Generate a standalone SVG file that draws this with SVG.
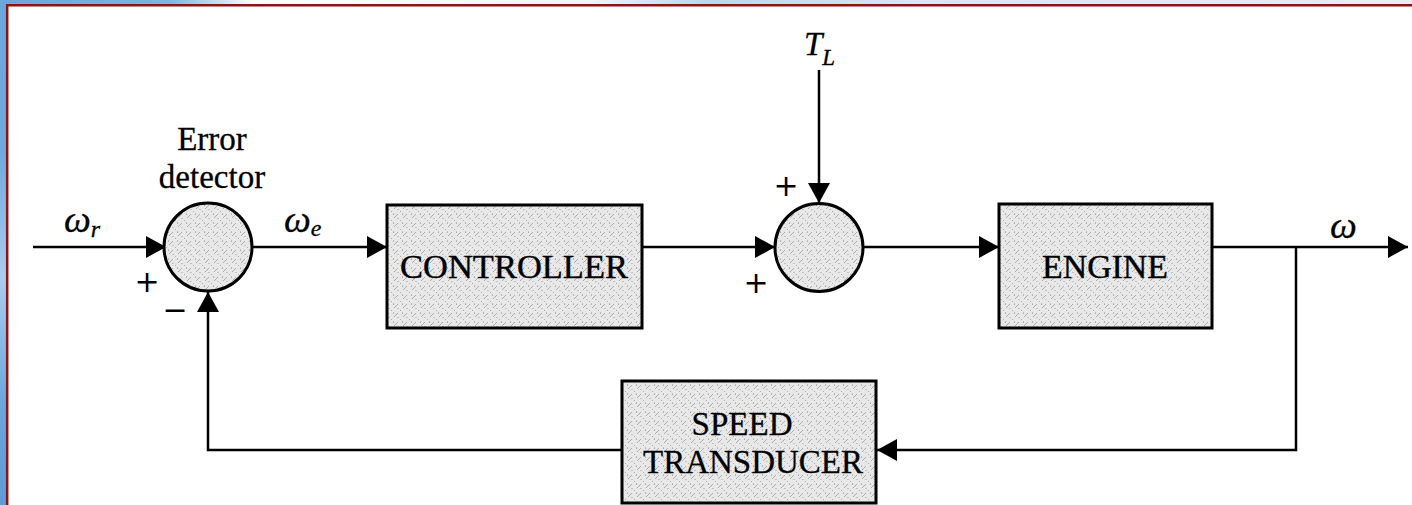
<svg xmlns="http://www.w3.org/2000/svg" width="1412" height="505" viewBox="0 0 1412 505">
<style>
.blk{fill:url(#stip);stroke:#000;stroke-width:3}
.sum{fill:url(#stip);stroke:#000;stroke-width:3}
.lbl{font-family:"Liberation Serif","Times New Roman",serif;font-size:34px;fill:#000;stroke:#000;stroke-width:0.4}
.cap{font-family:"Liberation Serif","Times New Roman",serif;font-size:33px;fill:#000;stroke:#000;stroke-width:0.3}
.sym{font-family:"Liberation Serif","Times New Roman",serif;font-style:italic;fill:#000;stroke:#000;stroke-width:0.3}
.sgn{font-family:"DejaVu Sans","Liberation Sans",sans-serif;font-size:30px;fill:#000}
.wire{fill:none;stroke:#000;stroke-width:2.5}
</style>
<defs>
<pattern id="stip" width="9" height="9" patternUnits="userSpaceOnUse">
<rect width="9" height="9" fill="#e8e8e8"/>
<path d="M0,9 L2,7 M4,5 L5,4 M7,2 L9,0" stroke="#a0a0a0" stroke-width="0.8"/>
<circle cx="6.5" cy="7" r="0.6" fill="#777"/>
<circle cx="2" cy="2.5" r="0.5" fill="#888"/>
</pattern>
<linearGradient id="topg" x1="0" y1="0" x2="1" y2="0">
<stop offset="0" stop-color="#6aa6df"/>
<stop offset="0.12" stop-color="#7fb4e4"/>
<stop offset="0.18" stop-color="#ffffff"/>
<stop offset="0.42" stop-color="#eef5fb"/>
<stop offset="0.5" stop-color="#b7d8f0"/>
<stop offset="0.64" stop-color="#d7e6f2"/>
<stop offset="1" stop-color="#e8eef4"/>
</linearGradient>
<linearGradient id="leftg" x1="0" y1="0" x2="0" y2="1">
<stop offset="0" stop-color="#6aa6df"/>
<stop offset="0.3" stop-color="#6fa9e0"/>
<stop offset="0.55" stop-color="#a9cdee"/>
<stop offset="0.8" stop-color="#6aa6df"/>
<stop offset="1" stop-color="#5d9ad8"/>
</linearGradient>
<marker id="ah" viewBox="0 0 20 22" refX="20" refY="11" markerWidth="20" markerHeight="22" markerUnits="userSpaceOnUse" orient="auto">
<path d="M0,0 L20,11 L0,22 z" fill="#000"/>
</marker>
</defs>

<g id="frame">
<rect x="0" y="0" width="1412" height="505" fill="#ffffff"/>
<rect x="0" y="0" width="1412" height="4" fill="url(#topg)"/>
<rect x="0" y="0" width="6" height="505" fill="url(#leftg)"/>
<line x1="6" y1="5.2" x2="1412" y2="5.2" stroke="#8b1414" stroke-width="2.5"/>
<line x1="7.2" y1="4" x2="7.2" y2="505" stroke="#8b1414" stroke-width="2.5"/>
</g>

<g id="connectors">
<path class="wire" d="M33,247 H166" marker-end="url(#ah)"/>
<path class="wire" d="M252,247 H387" marker-end="url(#ah)"/>
<path class="wire" d="M642,247 H775" marker-end="url(#ah)"/>
<path class="wire" d="M819,70 V203" marker-end="url(#ah)"/>
<path class="wire" d="M863,247 H999" marker-end="url(#ah)"/>
<path class="wire" d="M1212,247 H1408" marker-end="url(#ah)"/>
<path class="wire" d="M1296,247 V450 H877" marker-end="url(#ah)"/>
<path class="wire" d="M622,450 H208 V292" marker-end="url(#ah)"/>
</g>

<g id="error-detector">
<circle class="sum" cx="208" cy="247" r="44"/>
<text class="cap" x="212" y="150" text-anchor="middle">Error</text>
<text class="cap" x="212" y="188" text-anchor="middle">detector</text>
<text class="sgn" x="147" y="292" text-anchor="middle">+</text>
<text class="sgn" x="175" y="320" text-anchor="middle">−</text>
</g>

<g id="controller">
<rect class="blk" x="387" y="205" width="255" height="123"/>
<text class="lbl" x="514" y="278" text-anchor="middle" textLength="228" lengthAdjust="spacingAndGlyphs">CONTROLLER</text>
</g>

<g id="summer">
<circle class="sum" cx="819" cy="247.5" r="44"/>
<text class="sgn" x="786" y="196" text-anchor="middle">+</text>
<text class="sgn" x="756" y="293" text-anchor="middle">+</text>
</g>

<g id="engine">
<rect class="blk" x="999" y="204" width="213" height="124"/>
<text class="lbl" x="1105" y="278" text-anchor="middle" textLength="126" lengthAdjust="spacingAndGlyphs">ENGINE</text>
</g>

<g id="speed-transducer">
<rect class="blk" x="622" y="381" width="254" height="122"/>
<text class="cap" x="742" y="435" text-anchor="middle" textLength="101" lengthAdjust="spacingAndGlyphs">SPEED</text>
<text class="cap" x="753" y="473" text-anchor="middle" textLength="220" lengthAdjust="spacingAndGlyphs">TRANSDUCER</text>
</g>

<g id="signal-labels">
<text class="sym" x="64" y="232" font-size="38">ω<tspan font-size="24" dy="5">r</tspan></text>
<text class="sym" x="284" y="232" font-size="38">ω<tspan font-size="24" dy="4">e</tspan></text>
<text class="sym" x="1330" y="238" font-size="38">ω</text>
<text class="sym" x="804" y="55" font-size="33">T<tspan font-size="23" dy="10">L</tspan></text>
</g>
</svg>
